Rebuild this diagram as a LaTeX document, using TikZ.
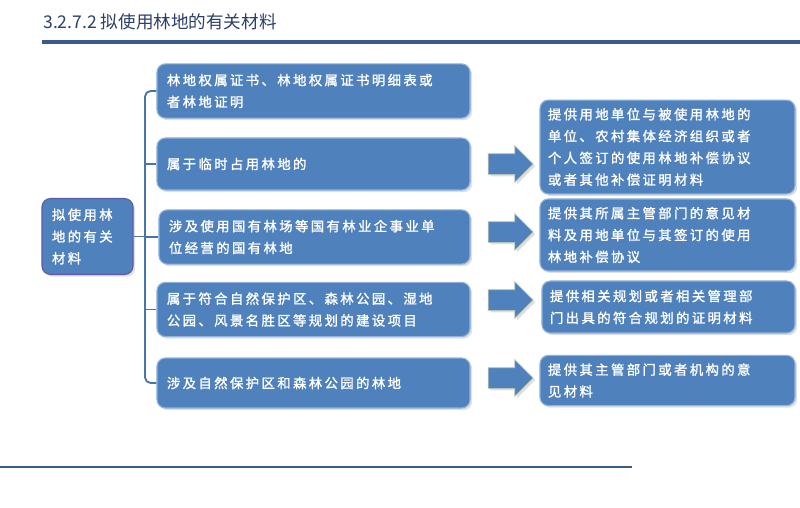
\documentclass[tikz,border=0pt]{standalone}
\usepackage{fontspec}
\setmainfont{Noto Sans CJK SC}
\newfontfamily\boxfont[LetterSpace=18,FakeBold=1.5]{Noto Sans CJK SC}
\usetikzlibrary{shapes.arrows,shadows,calc}
\definecolor{boxblue}{HTML}{4F81BD}
\definecolor{boxedge}{HTML}{8FB3DC}
\definecolor{titleblue}{HTML}{2B3F6B}
\definecolor{lineblue}{HTML}{3A5A8C}
\begin{document}
\begin{tikzpicture}[x=0.025cm,y=-0.025cm,
  box/.style={draw=boxedge,line width=0.8pt,fill=boxblue,rounded corners=6pt,
    text=white,font=\boxfont\fontsize{9.5}{15.5}\selectfont,align=left,inner sep=0.25cm,
    drop shadow={opacity=0.25,shadow xshift=1.5pt,shadow yshift=-1.5pt}},
  arr/.style={single arrow,draw=boxedge!60!olive!60,line width=0.5pt,fill=boxblue,minimum height=1.125cm,
    single arrow head extend=0.2cm,inner xsep=0pt,inner ysep=0.25cm,
    drop shadow={opacity=0.25,shadow xshift=1.5pt,shadow yshift=-1.5pt}},
  conn/.style={draw=boxblue!90!black,line width=1.3pt}]
\useasboundingbox (0,0) rectangle (800,507);
\node[anchor=west,text=titleblue,font=\fontsize{12.5}{14}\selectfont,inner sep=0pt] (title) at (43,22) {3.2.7.2 拟使用林地的有关材料};
\coordinate (t1) at (42,42); \coordinate (t2) at (800,42);
\draw[lineblue,line width=2.2pt] (t1) -- (t2);
\coordinate (u1) at (0,467); \coordinate (u2) at (632,467);
\draw[lineblue,line width=1.6pt] (u1) -- (u2);

\node[box,draw=violet!30!boxblue,minimum width=2.275cm,minimum height=1.675cm,text width=1.775cm] (L) at (87.5,236.5) {拟使用林\\地的有关\\材料};

\node[box,minimum width=7.825cm,minimum height=1.35cm,text width=7.325cm] (b1) at (313.5,91) {林地权属证书、林地权属证书明细表或\\者林地证明};
\node[box,minimum width=7.825cm,minimum height=1.3cm,text width=7.325cm] (b2) at (313.5,164) {属于临时占用林地的};
\node[box,minimum width=7.775cm,minimum height=1.3cm,text width=7.275cm] (b3) at (314.5,237) {涉及使用国有林场等国有林业企事业单\\位经营的国有林地};
\node[box,minimum width=7.825cm,minimum height=1.275cm,text width=7.325cm] (b4) at (313.5,309.5) {属于符合自然保护区、森林公园、湿地\\公园、风景名胜区等规划的建设项目};
\node[box,minimum width=7.825cm,minimum height=1.25cm,text width=7.325cm] (b5) at (313.5,383) {涉及自然保护区和森林公园的林地};

\node[box,minimum width=6.375cm,minimum height=2.0cm,text width=5.975cm,inner sep=0.2cm] (rA) at (667.5,147) {提供用地单位与被使用林地的\\单位、农村集体经济组织或者\\个人签订的使用林地补偿协议\\或者其他补偿证明材料};
\node[box,minimum width=6.375cm,minimum height=1.5cm,text width=5.975cm,inner sep=0.2cm] (rB) at (667.5,235) {提供其所属主管部门的意见材\\料及用地单位与其签订的使用\\林地补偿协议};
\node[box,minimum width=6.325cm,minimum height=1.3cm,text width=5.925cm,inner sep=0.2cm] (rC) at (668.5,307) {提供相关规划或者相关管理部\\门出具的符合规划的证明材料};
\node[box,minimum width=6.375cm,minimum height=1.225cm,text width=5.975cm,inner sep=0.2cm] (rD) at (667.5,380.5) {提供其主管部门或者机构的意\\见材料};

\node[arr] (a1) at (505.5,164) {};
\node[arr] (a2) at (505.5,232) {};
\node[arr] (a3) at (505.5,300) {};
\node[arr] (a4) at (505.5,378) {};

\coordinate (bus) at (145,0);
\draw[conn,rounded corners=4pt] (b1.west) -- (b1.west -| bus) -- (b5.west -| bus) -- (b5.west);
\draw[conn] (b2.west -| bus) -- (b2.west);
\draw[conn] (b3.west -| bus) -- (b3.west);
\draw[conn] (b4.west -| bus) -- (b4.west);
\draw[conn] (L.east) -- (L.east -| bus);
\end{tikzpicture}
\end{document}
